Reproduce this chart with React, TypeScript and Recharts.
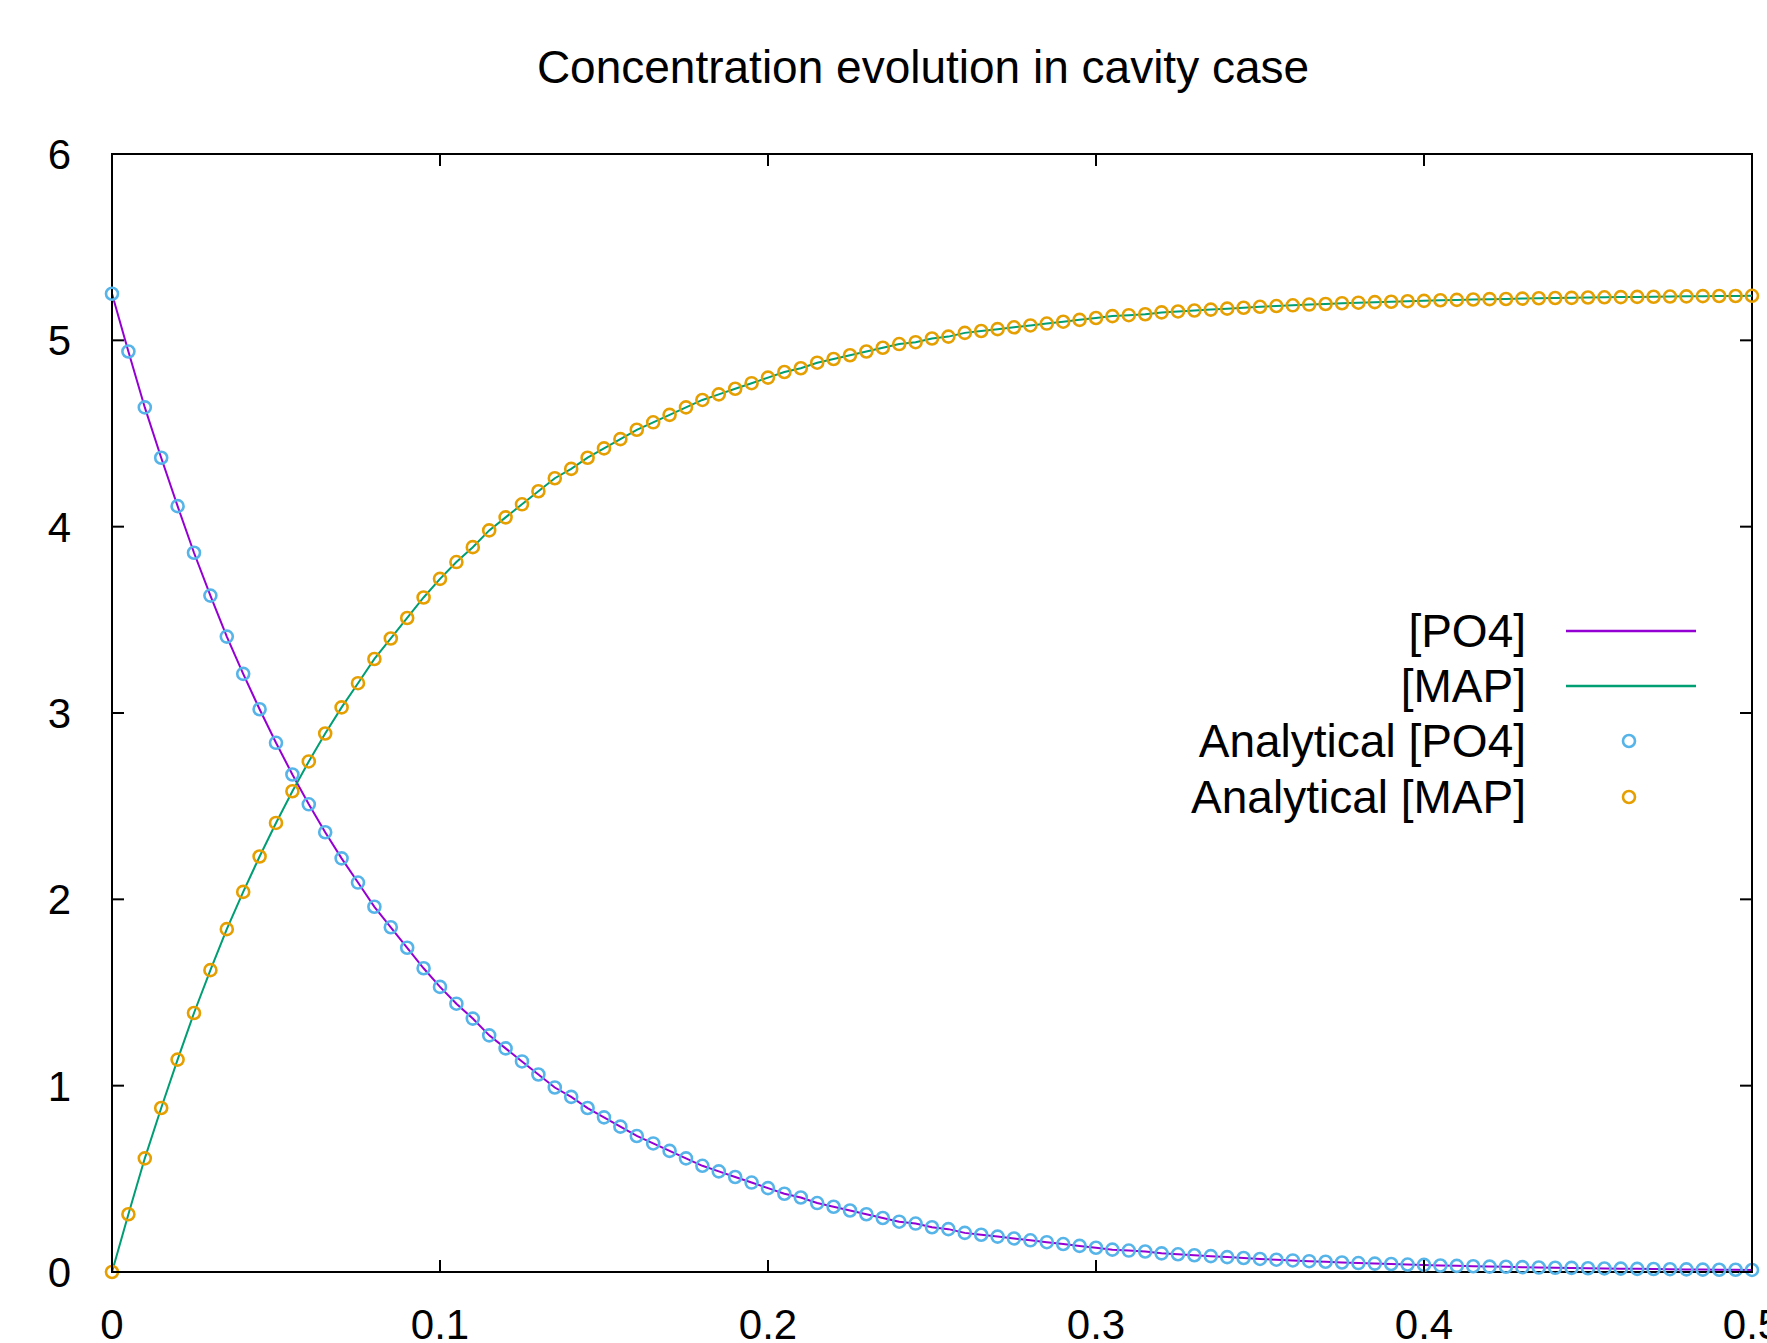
import React from 'react';
import {
  ComposedChart,
  Line,
  XAxis,
  YAxis,
  ReferenceArea,
} from 'recharts';

// time (s)
const times = [
  0, 0.005, 0.01, 0.015, 0.02, 0.025, 0.03, 0.035, 0.04, 0.045,
  0.05, 0.055, 0.06, 0.065, 0.07, 0.075, 0.08, 0.085, 0.09, 0.095,
  0.1, 0.105, 0.11, 0.115, 0.12, 0.125, 0.13, 0.135, 0.14, 0.145,
  0.15, 0.155, 0.16, 0.165, 0.17, 0.175, 0.18, 0.185, 0.19, 0.195,
  0.2, 0.205, 0.21, 0.215, 0.22, 0.225, 0.23, 0.235, 0.24, 0.245,
  0.25, 0.255, 0.26, 0.265, 0.27, 0.275, 0.28, 0.285, 0.29, 0.295,
  0.3, 0.305, 0.31, 0.315, 0.32, 0.325, 0.33, 0.335, 0.34, 0.345,
  0.35, 0.355, 0.36, 0.365, 0.37, 0.375, 0.38, 0.385, 0.39, 0.395,
  0.4, 0.405, 0.41, 0.415, 0.42, 0.425, 0.43, 0.435, 0.44, 0.445,
  0.45, 0.455, 0.46, 0.465, 0.47, 0.475, 0.48, 0.485, 0.49, 0.495,
  0.5,
];

const po4 = [
  5.25, 4.94, 4.64, 4.37, 4.11, 3.86, 3.63, 3.41, 3.21, 3.02,
  2.84, 2.67, 2.51, 2.36, 2.22, 2.09, 1.96, 1.85, 1.74, 1.63,
  1.53, 1.44, 1.36, 1.27, 1.2, 1.13, 1.06, 0.99, 0.94, 0.88,
  0.83, 0.78, 0.73, 0.69, 0.65, 0.61, 0.57, 0.54, 0.51, 0.48,
  0.45, 0.42, 0.4, 0.37, 0.35, 0.33, 0.31, 0.29, 0.27, 0.26,
  0.24, 0.23, 0.21, 0.2, 0.19, 0.18, 0.17, 0.16, 0.15, 0.14,
  0.13, 0.12, 0.115, 0.11, 0.1, 0.095, 0.09, 0.085, 0.08, 0.075,
  0.07, 0.066, 0.062, 0.058, 0.055, 0.051, 0.048, 0.045, 0.043, 0.04,
  0.038, 0.035, 0.033, 0.031, 0.029, 0.028, 0.026, 0.024, 0.023, 0.022,
  0.02, 0.019, 0.018, 0.017, 0.016, 0.015, 0.014, 0.013, 0.012, 0.012,
  0.011,
];

const map = [
  0, 0.31, 0.61, 0.88, 1.14, 1.39, 1.62, 1.84, 2.04, 2.23,
  2.41, 2.58, 2.74, 2.89, 3.03, 3.16, 3.29, 3.4, 3.51, 3.62,
  3.72, 3.81, 3.89, 3.98, 4.05, 4.12, 4.19, 4.26, 4.31, 4.37,
  4.42, 4.47, 4.52, 4.56, 4.6, 4.64, 4.68, 4.71, 4.74, 4.77,
  4.8, 4.83, 4.85, 4.88, 4.9, 4.92, 4.94, 4.96, 4.98, 4.99,
  5.01, 5.02, 5.04, 5.05, 5.06, 5.07, 5.08, 5.09, 5.1, 5.11,
  5.12, 5.13, 5.135, 5.14, 5.15, 5.155, 5.16, 5.165, 5.17, 5.175,
  5.18, 5.184, 5.188, 5.192, 5.195, 5.199, 5.202, 5.205, 5.207, 5.21,
  5.212, 5.215, 5.217, 5.219, 5.221, 5.222, 5.224, 5.226, 5.227, 5.228,
  5.23, 5.231, 5.232, 5.233, 5.234, 5.235, 5.236, 5.237, 5.238, 5.238,
  5.239,
];

const xTicks = [0, 0.1, 0.2, 0.3, 0.4, 0.5];
const yTicks = [0, 1, 2, 3, 4, 5, 6];

const legendItems = ['[PO4]', '[MAP]', 'Analytical [PO4]', 'Analytical [MAP]'];

const W = 1767;
const H = 1343;
const TOP = 154;
const BOTTOM = 1272;
const LEFT = 112;
const RIGHT = 1752;
const TICK = 12;
const FONT = '"Liberation Sans", Arial, sans-serif';

const C_PO4 = '#9400d3';
const C_MAP = '#009e73';
const C_APO4 = '#56b4e9';
const C_AMAP = '#e69f00';

const data = times.map((t, i) => ({ t, po4: po4[i], map: map[i] }));

const XTick = (props: any) => {
  const { x, payload } = props;
  return (
    <g>
      <line x1={x} x2={x} y1={BOTTOM} y2={BOTTOM - TICK} stroke="#000" strokeWidth={2} />
      <line x1={x} x2={x} y1={TOP} y2={TOP + TICK} stroke="#000" strokeWidth={2} />
      <text x={x} y={1339} textAnchor="middle" fontSize={42} fontFamily={FONT} fill="#000">
        {String(payload.value)}
      </text>
    </g>
  );
};

const YTick = (props: any) => {
  const { y, payload } = props;
  return (
    <g>
      <line x1={LEFT} x2={LEFT + TICK} y1={y} y2={y} stroke="#000" strokeWidth={2} />
      <line x1={RIGHT} x2={RIGHT - TICK} y1={y} y2={y} stroke="#000" strokeWidth={2} />
      <text x={71} y={y + 15} textAnchor="end" fontSize={42} fontFamily={FONT} fill="#000">
        {String(payload.value)}
      </text>
    </g>
  );
};

const marker = (color: string) => (props: any) => {
  const { cx, cy, index } = props;
  if (cx == null || cy == null) return <g key={index} />;
  return (
    <circle key={index} cx={cx} cy={cy} r={6} fill="none" stroke={color} strokeWidth={2.6} />
  );
};

export default function App() {
  const rowY = [631, 686, 741, 797];
  return (
    <div style={{ position: 'absolute', left: 0, top: 0, width: W, height: H, background: '#fff' }}>
      <ComposedChart
        width={W}
        height={H}
        data={data}
        margin={{ top: TOP, right: W - RIGHT, left: 0, bottom: 0 }}
      >
        <XAxis
          dataKey="t"
          type="number"
          domain={[0, 0.5]}
          ticks={xTicks}
          height={H - BOTTOM}
          axisLine={{ stroke: '#000', strokeWidth: 2 }}
          tickLine={false}
          tickSize={0}
          tick={<XTick />}
          interval={0}
        />
        <YAxis
          type="number"
          domain={[0, 6]}
          ticks={yTicks}
          width={LEFT}
          axisLine={{ stroke: '#000', strokeWidth: 2 }}
          tickLine={false}
          tickSize={0}
          tick={<YTick />}
          interval={0}
        />
        <ReferenceArea x1={0} x2={0.5} y1={0} y2={6} fill="none" stroke="#000" strokeWidth={2} ifOverflow="visible" />
        <Line dataKey="po4" type="linear" stroke={C_PO4} strokeWidth={2} dot={false} activeDot={false} isAnimationActive={false} />
        <Line dataKey="map" type="linear" stroke={C_MAP} strokeWidth={2} dot={false} activeDot={false} isAnimationActive={false} />
        <Line dataKey="po4" type="linear" stroke="none" dot={marker(C_APO4)} activeDot={false} isAnimationActive={false} />
        <Line dataKey="map" type="linear" stroke="none" dot={marker(C_AMAP)} activeDot={false} isAnimationActive={false} />
      </ComposedChart>
      <svg
        width={W}
        height={H}
        style={{ position: 'absolute', left: 0, top: 0, pointerEvents: 'none' }}
      >
        <text x={923} y={83} textAnchor="middle" fontSize={46} fontFamily={FONT} fill="#000">
          Concentration evolution in cavity case
        </text>
        {legendItems.map((label, i) => (
          <g key={label}>
            <text x={1526} y={rowY[i] + 16} textAnchor="end" fontSize={46} fontFamily={FONT} fill="#000">
              {label}
            </text>
            {i === 0 && <line x1={1566} x2={1696} y1={rowY[i]} y2={rowY[i]} stroke={C_PO4} strokeWidth={2.5} />}
            {i === 1 && <line x1={1566} x2={1696} y1={rowY[i]} y2={rowY[i]} stroke={C_MAP} strokeWidth={2.5} />}
            {i === 2 && <circle cx={1629} cy={rowY[i]} r={6} fill="none" stroke={C_APO4} strokeWidth={2.6} />}
            {i === 3 && <circle cx={1629} cy={rowY[i]} r={6} fill="none" stroke={C_AMAP} strokeWidth={2.6} />}
          </g>
        ))}
      </svg>
    </div>
  );
}
